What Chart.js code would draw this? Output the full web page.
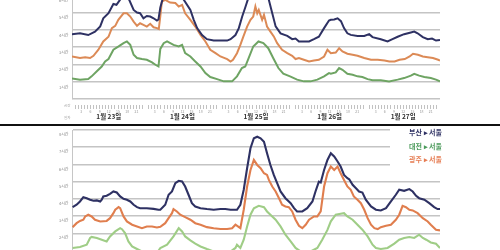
<!DOCTYPE html>
<html><head><meta charset="utf-8">
<script src="https://cdn.jsdelivr.net/npm/chart.js@4"></script>
<style>
html,body{margin:0;padding:0;width:500px;height:250px;overflow:hidden;background:#fff;font-family:"Noto Sans CJK KR",sans-serif;}
canvas{position:absolute;left:0;}
#divider{position:absolute;left:0;top:124px;width:500px;height:1.6px;background:#111;z-index:3}
#legend{position:absolute;left:390px;top:126px;width:52px;height:44px;background:#fff;z-index:2;text-align:right;}
#legend div{font-size:7px;font-weight:700;line-height:13.5px;white-space:nowrap}
</style></head>
<body>
<canvas id="c1"></canvas>
<canvas id="c2"></canvas>
<div id="divider"></div>
<div id="legend"></div>
<script>
// ---- labels ----
const dayLabels = ['1월 23일','1월 24일','1월 25일','1월 26일','1월 27일'];
const hourLabels = [3,6,9,12,15,18,21];
const yUnit = '시간';
const rowNames = ['시간','일자'];
const seriesNames = ['부산 ▸ 서울','대전 ▸ 서울','광주 ▸ 서울'];

// ---- top chart (hours since 1/23 00:00, travel time in hours) ----
const topBusanH = [0,2.6,5.3,7.5,9.2,10.2,11.9,13.5,14.5,15.7,17.3,18.5,20.1,21.2,22.2,23.3,24.4,25.5,26.6,27.7,28.2,28.8,29.9,32,35,36.4,38.6,39.7,40.8,42.4,44.0,46.2,50.6,51.7,53.3,54.4,55.5,56.6,57.3,59,61,63,64.2,65.3,66.4,68.0,70.2,71.8,72.9,74.0,77.3,78.9,80.5,82.2,83.8,84.4,85.5,86.6,87.7,88.7,89.8,90.9,93.1,95.3,96.9,98.0,100.7,102.9,104.5,106.2,108.3,110.5,111.6,112.7,114.4,116.0,117.4,118.7,120];
const topBusanV = [4.75,4.8,4.7,4.9,5.2,5.67,5.96,6.5,6.45,6.75,7.1,6.8,6.15,6.0,5.96,5.67,5.8,5.77,5.67,5.54,5.6,6.3,7.0,7.5,7.3,6.75,6.15,5.58,5.1,4.7,4.46,4.38,4.38,4.46,4.7,5.1,5.77,6.35,6.73,7.4,7.6,7.3,6.73,5.96,5.2,4.8,4.65,4.46,4.5,4.33,4.33,4.46,4.6,5.1,5.54,5.58,5.6,5.67,5.5,5.1,4.8,4.71,4.65,4.65,4.75,4.58,4.46,4.33,4.46,4.6,4.75,4.85,4.9,4.8,4.58,4.46,4.5,4.38,4.42];

const topGwangjuH = [0,2.6,4.3,5.9,7.0,8.6,10.2,11.9,13.0,14.1,15.1,16.8,17.9,19.0,20.1,21.2,22.2,23.3,24.4,25.5,26.6,27.7,28.3,28.8,29.3,30.4,32.0,33.7,34.8,35.9,36.9,38.6,40.2,41.9,43.5,45.1,46.8,48.4,50.6,51.7,52.5,53.8,54.9,55.9,57.1,58.2,59.1,59.8,60.4,60.9,62.0,62.6,63.6,64.7,65.8,66.9,68.5,70.2,71.8,72.9,74.0,75.6,77.3,78.9,80.5,82.2,83.3,84.4,86.0,87.1,88.2,89.8,91.5,93.1,95.3,97.5,99.7,101.9,103.5,105.2,106.8,108.5,110.1,111.2,112.8,114.4,116.0,117.7,119.4,120];
const topGwangjuV = [3.46,3.37,3.42,3.37,3.5,3.85,4.33,4.6,5.1,5.23,5.58,5.96,5.96,5.77,5.48,5.23,5.38,5.29,5.19,5.35,5.15,5.1,5.05,5.8,6.63,6.73,6.58,6.55,6.35,6.45,5.96,5.58,5.19,4.71,4.33,3.85,3.65,3.46,3.31,3.17,3.27,3.65,4.13,4.62,5.19,5.58,5.77,6.35,5.96,6.15,5.58,5.87,5.19,4.9,4.62,4.23,3.85,3.65,3.5,3.31,3.37,3.27,3.17,3.23,3.27,3.46,3.85,3.65,3.69,3.94,3.75,3.62,3.56,3.5,3.37,3.27,3.27,3.23,3.17,3.17,3.27,3.31,3.46,3.62,3.56,3.46,3.42,3.37,3.27,3.23];

const topDaejeonH = [0,2.6,5.3,6.4,8.1,9.7,10.8,11.9,13.5,15.2,16.8,17.9,19.0,20.1,21.2,22.8,24.4,26.1,27.2,28.2,28.8,29.9,31.0,33.1,34.8,35.9,36.9,38.6,40.2,41.9,43.5,45.1,47.3,49.5,52.2,53.8,55.4,56.5,57.6,59.1,60.8,62.4,64.0,65.6,67.3,68.9,71.1,73.4,75.6,77.8,80.0,82.2,83.8,84.4,86.0,87.1,88.2,89.8,91.5,93.1,94.7,96.4,98.0,100.7,103.4,106.2,108.3,110.5,111.6,113.2,114.9,117.0,118.7,120];
const topDaejeonV = [2.19,2.12,2.15,2.31,2.6,2.88,3.17,3.31,3.85,4.04,4.23,4.33,4.13,3.56,3.37,3.31,3.27,3.12,2.98,2.88,3.9,4.23,4.33,4.13,4.04,4.13,3.65,3.46,3.17,2.88,2.5,2.27,2.15,2.02,2.02,2.31,2.79,2.88,3.37,4.04,4.33,4.23,3.94,3.37,2.79,2.46,2.31,2.12,2.02,2.02,2.12,2.31,2.5,2.46,2.54,2.79,2.69,2.46,2.4,2.31,2.27,2.15,2.08,2.08,2.02,2.12,2.21,2.35,2.46,2.35,2.27,2.21,2.12,2.02];

// ---- bottom chart ----
const botBusanH = [0.2,1.5,2.6,3.7,4.8,5.9,7.0,8.1,9.2,9.7,10.2,11.3,12.4,13.5,14.6,15.7,16.8,17.9,19.0,20.1,21.2,22.2,24.4,26.6,28.2,28.8,30.4,31.5,32.6,33.7,34.8,35.9,36.9,38.0,39.1,40.2,41.9,44.0,46.2,48.4,50.0,51.7,53.8,54.9,56.0,57.1,58.2,59.3,60.4,61.5,62.6,63.6,64.7,65.8,66.9,68.0,69.6,71.3,72.4,73.4,75.1,76.7,78.4,79.4,80.5,81.1,82.2,83.3,84.4,85.5,86.6,87.6,88.7,89.8,90.4,91.5,92.6,93.6,94.7,95.8,97.5,99.1,100.7,102.4,104.0,105.6,106.7,108.3,110.0,111.1,112.2,113.2,114.9,116.5,118.1,119.2,120];
const botBusanV = [4.52,4.66,4.85,5.1,5.04,4.95,4.89,4.91,4.85,4.95,5.14,5.18,5.29,5.43,5.37,5.14,5.0,4.95,4.85,4.66,4.52,4.46,4.46,4.42,4.37,4.37,4.66,5.24,5.43,5.91,6.05,6.01,5.72,5.24,4.75,4.56,4.46,4.41,4.37,4.41,4.41,4.37,4.37,4.66,5.53,6.78,7.94,8.52,8.61,8.52,8.32,7.65,6.97,6.39,5.91,5.43,5.04,4.75,4.46,4.27,4.27,4.46,4.85,5.43,6.0,5.95,6.68,7.26,7.65,7.46,7.17,6.88,6.39,6.2,6.14,5.82,5.62,5.43,5.37,4.95,4.56,4.37,4.33,4.46,4.85,5.24,5.53,5.47,5.57,5.43,5.18,5.04,4.95,4.75,4.52,4.41,4.41];

const botGwangjuH = [0.2,1.5,2.6,3.7,4.3,5.3,6.4,7.5,9.2,11.3,12.4,13.5,14.1,15.2,15.7,16.8,17.9,19.6,21.2,22.8,24.4,26.1,27.7,28.8,30.4,31.5,32.6,33.1,34.2,35.3,36.9,38.6,40.2,41.9,44.0,46.2,48.4,50.6,52.2,53.3,54.1,54.9,56.0,57.1,58.2,59.3,60.4,61.5,62.6,63.6,64.2,65.3,66.4,67.5,68.5,69.6,70.7,71.8,72.9,74.0,75.1,76.2,77.3,78.9,80.0,81.1,82.2,83.3,84.4,85.5,86.6,87.6,88.7,89.8,90.9,91.9,93.1,94.2,95.3,96.4,97.5,98.6,99.7,100.7,102.4,104.0,105.6,106.7,107.8,108.9,110.0,111.1,112.7,114.4,116.0,117.0,118.7,120];
const botGwangjuV = [3.36,3.59,3.72,3.79,3.98,4.08,3.98,3.79,3.69,3.72,3.88,4.17,4.37,4.52,4.46,3.98,3.69,3.5,3.4,3.3,3.4,3.4,3.34,3.38,3.59,3.88,4.17,4.41,4.27,4.08,3.94,3.79,3.59,3.5,3.36,3.3,3.25,3.25,3.3,3.5,3.4,3.3,4.37,5.72,6.68,7.26,6.97,6.78,6.49,6.39,6.1,5.72,5.43,5.04,4.66,4.56,4.52,4.27,3.79,3.44,3.3,3.5,3.79,3.98,3.98,4.27,5.72,6.49,6.88,6.68,6.88,6.49,6.1,5.72,5.53,5.14,4.95,4.75,4.37,3.88,3.5,3.3,3.25,3.36,3.44,3.5,3.79,4.08,4.6,4.52,4.37,4.33,4.17,3.88,3.69,3.5,3.21,3.17];

const botDaejeonH = [0.2,2.6,4.8,5.9,6.4,8.1,9.7,11.3,12.4,14.1,15.7,16.3,17.3,18.4,19.6,21.2,23.3,25.5,27.7,28.8,31.0,33.1,34.8,35.9,36.9,38.6,40.2,41.9,44.0,46.2,48.4,50.6,53.3,53.8,54.9,56.0,57.1,58.2,59.3,60.9,62.6,63.6,64.7,66.4,68.0,69.6,71.3,72.9,74.5,77.8,80.0,81.6,83.3,84.4,86.0,87.6,88.7,89.8,91.5,93.1,94.7,96.4,98.0,99.1,100.7,102.9,105.1,106.7,108.3,110.0,111.6,113.2,114.4,115.5,117.0,118.7,120];
const botDaejeonV = [2.15,2.21,2.34,2.73,2.79,2.73,2.63,2.53,2.82,3.11,3.3,3.24,3.02,2.53,2.24,2.09,1.9,1.8,1.85,2.15,2.34,2.82,3.3,3.11,2.82,2.59,2.4,2.24,2.09,1.95,1.85,1.8,2.15,2.34,2.15,2.63,3.4,4.08,4.46,4.6,4.52,4.27,4.08,3.79,3.4,2.92,2.53,2.15,1.95,1.95,2.15,2.63,3.2,3.7,4.08,4.14,4.17,3.98,3.79,3.5,3.21,2.82,2.34,2.15,2.09,2.15,2.4,2.63,2.73,2.79,2.73,2.92,2.73,2.63,2.47,2.4,2.15];

// ---- styles ----
const FAMILY = '"Noto Sans CJK KR", "Noto Sans", sans-serif';
const NAVY = '#2e3163', GREEN_TOP = '#6ea463', ORANGE_TOP = '#dc8a56';
const GREEN_BOT = '#9fcd86', ORANGE_BOT = '#e07e4e';
const LEGEND_COLORS = ['#2e3163', '#4a9a5a', '#e67c52'];

function pts(h, v) { return h.map((x, i) => ({ x: x, y: v[i] })); }
function ds(h, v, color, w) {
  return { data: pts(h, v), borderColor: color, borderWidth: w, pointRadius: 0, tension: 0, fill: false };
}

const rowLabelPlugin = {
  id: 'rowLabels',
  afterDraw(chart) {
    const c = chart.ctx, b = chart.chartArea.bottom;
    c.save();
    c.font = '3.5px ' + FAMILY;
    c.fillStyle = '#999';
    c.textAlign = 'right';
    c.textBaseline = 'middle';
    c.fillText(rowNames[0], 70.5, b + 6.7);
    c.fillText(rowNames[1], 70.5, b + 18.7);
    c.restore();
  }
};

const PAD_TOP = 8, AX_H = 14, AX_D = 14;

function build(canvasId, pageTop, plotH, yMin, yMax, datasets, offsetFn) {
  const cv = document.getElementById(canvasId);
  const H = PAD_TOP + plotH + AX_H + AX_D;
  cv.width = 500; cv.height = H;
  cv.style.width = '500px'; cv.style.height = H + 'px';
  cv.style.top = (pageTop - PAD_TOP) + 'px';
  return new Chart(cv, {
    type: 'line',
    data: { datasets: datasets },
    plugins: [rowLabelPlugin],
    options: {
      responsive: false, animation: false, devicePixelRatio: 1,
      layout: { padding: { left: 0, right: 60, top: PAD_TOP, bottom: 0 } },
      plugins: { legend: { display: false }, tooltip: { enabled: false } },
      scales: {
        x: {
          type: 'linear', min: 0, max: 120, position: 'bottom', weight: 1,
          afterFit: s => { s.height = AX_H; },
          border: { display: false },
          grid: {
            drawOnChartArea: false, drawTicks: true, tickLength: 10, tickWidth: 0.7,
            tickBorderDash: [0, 6, 4, 40],
            tickColor: ctx => (ctx.tick && Math.round(ctx.tick.value) % 24 === 0) ? 'rgba(0,0,0,0)' : '#a8a8a8'
          },
          ticks: {
            stepSize: 1, autoSkip: false, maxRotation: 0, minRotation: 0, padding: 1,
            font: { size: 3.5, family: FAMILY }, color: '#999',
            callback: v => { const h = Math.round(v) % 24; return hourLabels.includes(h) ? String(h) : ''; }
          }
        },
        xd: {
          type: 'linear', min: 0, max: 120, position: 'bottom', weight: 2,
          afterFit: s => { s.height = AX_D; },
          afterBuildTicks: s => { s.ticks = dayLabels.map((_, i) => ({ value: i * 24 + 12 })); },
          border: { display: false },
          grid: { display: false, drawTicks: false },
          ticks: {
            autoSkip: false, maxRotation: 0, minRotation: 0, padding: 0,
            font: { size: 6.5, weight: 'bold', family: FAMILY }, color: '#333',
            callback: v => dayLabels[Math.floor(v / 24)]
          }
        },
        y: {
          type: 'linear', min: yMin, max: yMax, position: 'left',
          afterFit: s => { s.width = 72; },
          border: { display: true, color: '#c6c6c6', width: 1 },
          grid: { color: '#c4c4c4', lineWidth: 1.6, drawTicks: false },
          ticks: {
            stepSize: 1, autoSkip: false, padding: 3.5,
            font: { size: 4, family: FAMILY }, color: '#8a8a8a',
            labelOffset: ctx => offsetFn(ctx.tick ? ctx.tick.value : 0),
            callback: v => v + yUnit
          }
        }
      }
    }
  });
}

// top chart: value 1 at y=99, 17.29 px per hour
build('c1', -22, 121, 1, 8, [
  ds(topBusanH, topBusanV, NAVY, 2),
  ds(topGwangjuH, topGwangjuV, ORANGE_TOP, 2),
  ds(topDaejeonH, topDaejeonV, GREEN_TOP, 2)
], v => -3.7 - (6 - v) * 1.38);

// bottom chart: value 9 at y=130
build('c2', 130, 155, 0, 9, [
  ds(botBusanH, botBusanV, NAVY, 2.1),
  ds(botGwangjuH, botGwangjuV, ORANGE_BOT, 2.1),
  ds(botDaejeonH, botDaejeonV, GREEN_BOT, 2.1)
], v => -1 - (9 - v) * 1.29);

// legend
const lg = document.getElementById('legend');
seriesNames.forEach((n, i) => {
  const d = document.createElement('div');
  d.textContent = n;
  d.style.color = LEGEND_COLORS[i];
  lg.appendChild(d);
});
</script>
</body></html>
